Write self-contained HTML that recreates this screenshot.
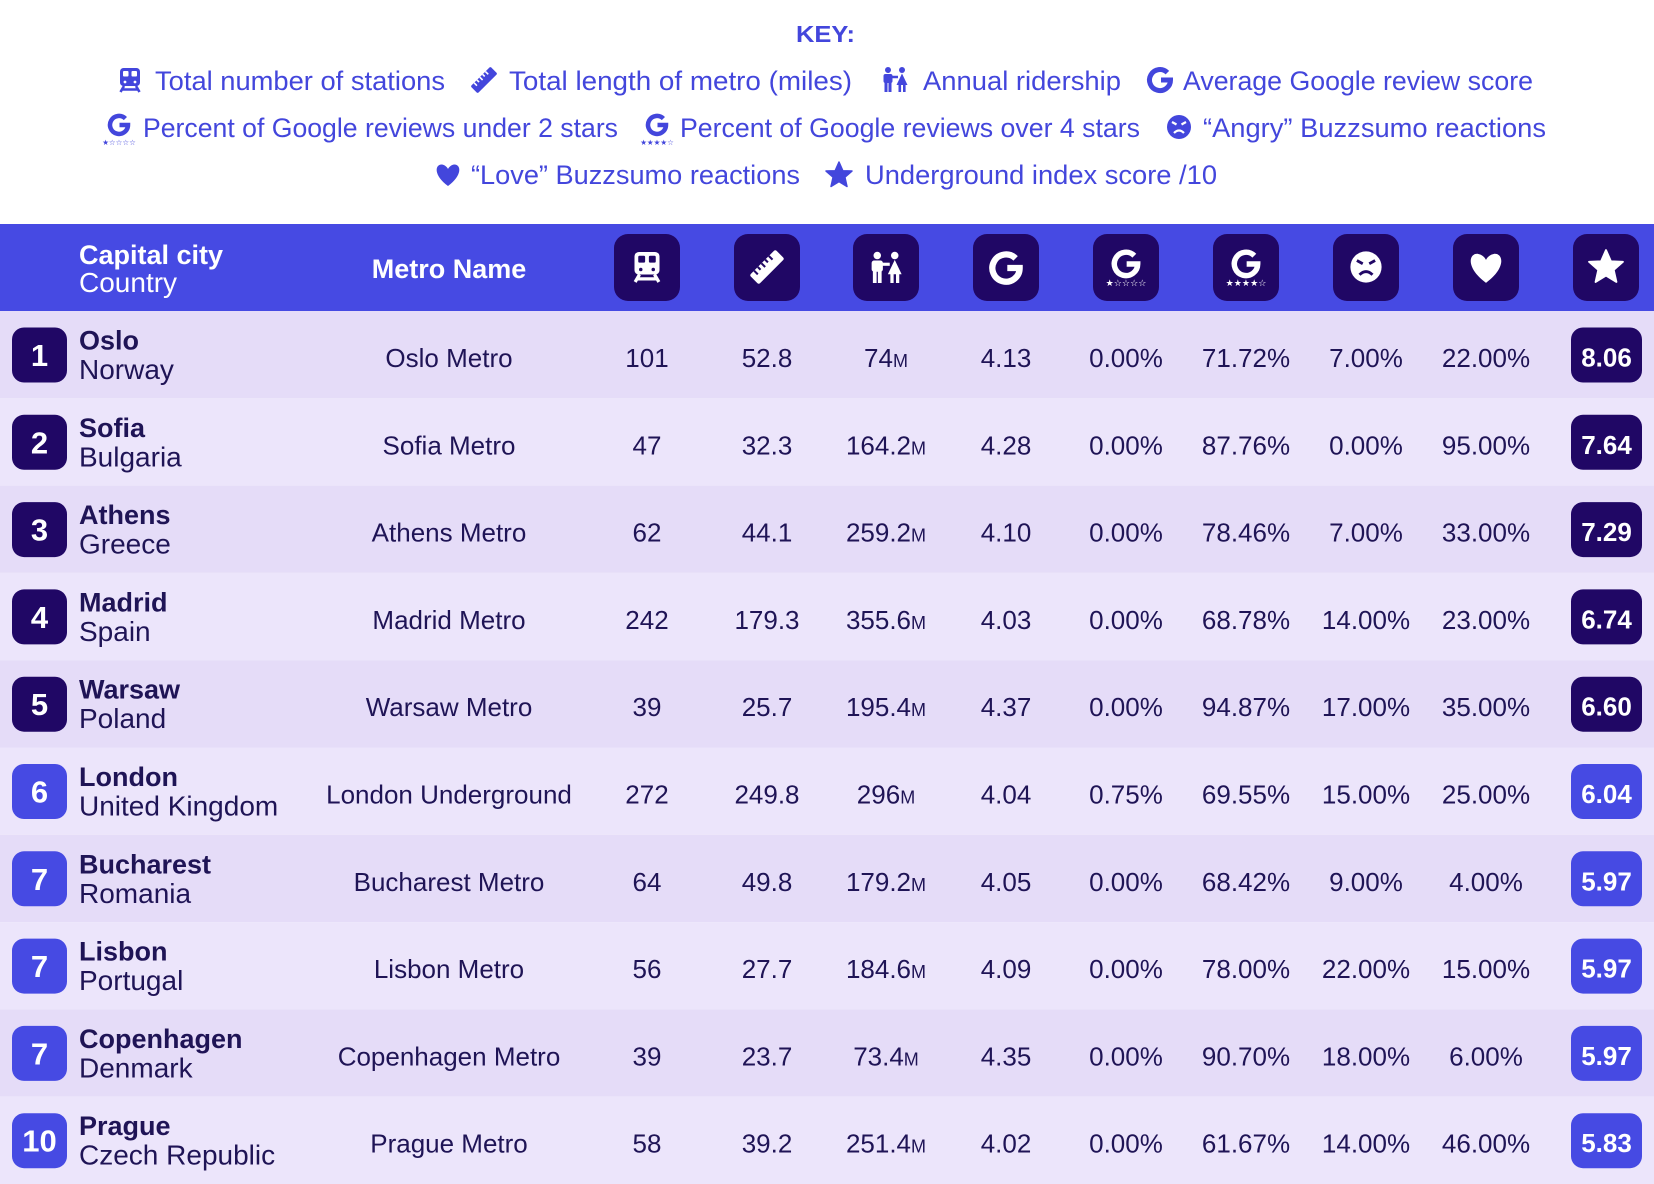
<!DOCTYPE html>
<html><head><meta charset="utf-8"><style>
html,body{margin:0;padding:0;background:#fff;}
svg{display:block;}
.k{font-family:"Liberation Sans",sans-serif;font-size:27px;fill:#4346dc;}
.kb{font-family:"Liberation Sans",sans-serif;font-size:23px;font-weight:bold;fill:#4346dc;}
.hb{font-family:"Liberation Sans",sans-serif;font-size:27px;font-weight:bold;fill:#fff;}
.hr{font-family:"Liberation Sans",sans-serif;font-size:28px;fill:#fff;}
.city{font-family:"Liberation Sans",sans-serif;font-size:27px;font-weight:bold;fill:#1f1456;}
.ctry{font-family:"Liberation Sans",sans-serif;font-size:28px;fill:#1f1456;}
.d{font-family:"Liberation Sans",sans-serif;font-size:26px;fill:#1f1456;text-anchor:middle;}
.rk{font-family:"Liberation Sans",sans-serif;font-size:31px;font-weight:bold;fill:#fff;text-anchor:middle;}
.sc{font-family:"Liberation Sans",sans-serif;font-size:26px;font-weight:bold;fill:#fff;text-anchor:middle;}
.st{font-family:"DejaVu Sans",sans-serif;}
</style></head><body>
<svg width="1654" height="1184" viewBox="0 0 1654 1184" xmlns="http://www.w3.org/2000/svg">
<rect width="1654" height="1184" fill="#fff"/>

<!-- KEY -->
<text class="kb" x="796" y="42" textLength="59" lengthAdjust="spacingAndGlyphs">KEY:</text>

<!-- line 1 -->
<g transform="translate(130,80)" fill="#4346dc">
 <rect x="-10" y="-12" width="20" height="18" rx="3.5"/>
 <rect x="-7" y="-9" width="5.5" height="5.5" rx="1" fill="#fff"/>
 <rect x="1.5" y="-9" width="5.5" height="5.5" rx="1" fill="#fff"/>
 <circle cx="-5" cy="2" r="1.4" fill="#fff"/><circle cx="5" cy="2" r="1.4" fill="#fff"/>
 <path d="M-6,6 L-9.5,12 M6,6 L9.5,12 M-8,9.5 L8,9.5" stroke="#4346dc" stroke-width="2.6" fill="none"/>
</g>
<text class="k" x="155" y="90" textLength="290" lengthAdjust="spacingAndGlyphs">Total number of stations</text>

<g transform="translate(484,80) rotate(-45)" fill="#4346dc">
 <rect x="-14" y="-5" width="28" height="10" rx="1.5"/>
 <path d="M-9,-5v4 M-5,-5v3 M-1,-5v4 M3,-5v3 M7,-5v4" stroke="#fff" stroke-width="1.6"/>
</g>
<text class="k" x="509" y="90" textLength="343" lengthAdjust="spacingAndGlyphs">Total length of metro (miles)</text>

<g transform="translate(895,80)" fill="#4346dc">
 <circle cx="-7" cy="-10" r="3"/><circle cx="7" cy="-10" r="3"/>
 <rect x="-11.5" y="-6" width="9" height="9" rx="2"/>
 <rect x="-10.5" y="2" width="3" height="10"/><rect x="-6.5" y="2" width="3" height="10"/>
 <path d="M7,-6.5 L12.5,5 L1.5,5 Z"/>
 <rect x="3.5" y="4" width="2.6" height="8"/><rect x="8" y="4" width="2.6" height="8"/>
 <path d="M-3,-3 L3,-3" stroke="#4346dc" stroke-width="2.5"/>
</g>
<text class="k" x="923" y="90" textLength="198" lengthAdjust="spacingAndGlyphs">Annual ridership</text>

<g transform="translate(1160,80)">
 <path d="M7.4,-7.4 A10.5,10.5 0 1 0 10.5,0 L1,0" stroke="#4346dc" stroke-width="5" fill="none"/>
</g>
<text class="k" x="1183" y="90" textLength="350" lengthAdjust="spacingAndGlyphs">Average Google review score</text>

<!-- line 2 -->
<g transform="translate(119,125)">
 <path d="M6.4,-6.4 A9,9 0 1 0 9,0 L0.5,0" stroke="#4346dc" stroke-width="4.5" fill="none"/>
 <text class="st" x="0" y="20" font-size="7.5" fill="#4346dc" text-anchor="middle">★☆☆☆☆</text>
</g>
<text class="k" x="143" y="137" textLength="475" lengthAdjust="spacingAndGlyphs">Percent of Google reviews under 2 stars</text>

<g transform="translate(657,125)">
 <path d="M6.4,-6.4 A9,9 0 1 0 9,0 L0.5,0" stroke="#4346dc" stroke-width="4.5" fill="none"/>
 <text class="st" x="0" y="20" font-size="7.5" fill="#4346dc" text-anchor="middle">★★★★☆</text>
</g>
<text class="k" x="680" y="137" textLength="460" lengthAdjust="spacingAndGlyphs">Percent of Google reviews over 4 stars</text>

<g transform="translate(1179,127)">
 <circle r="12" fill="#4346dc"/>
 <path d="M-7,-5 L-2.5,-2.5 M7,-5 L2.5,-2.5" stroke="#fff" stroke-width="2.2"/>
 <path d="M-5,6 Q0,1 5,6" stroke="#fff" stroke-width="2.2" fill="none"/>
</g>
<text class="k" x="1203" y="137" textLength="343" lengthAdjust="spacingAndGlyphs">“Angry” Buzzsumo reactions</text>

<!-- line 3 -->
<g transform="translate(448,175)">
 <path d="M0,11 C-15,0 -13,-11 -6,-10.5 C-3,-10 -1,-8 0,-6 C1,-8 3,-10 6,-10.5 C13,-11 15,0 0,11 Z" fill="#4346dc"/>
</g>
<text class="k" x="471" y="184" textLength="329" lengthAdjust="spacingAndGlyphs">“Love” Buzzsumo reactions</text>

<g transform="translate(839,175)">
 <polygon points="0,-13 3.8,-4.3 13,-4 5.9,2.2 8,11.5 0,6.6 -8,11.5 -5.9,2.2 -13,-4 -3.8,-4.3" fill="#4346dc" stroke="#4346dc" stroke-width="1.5" stroke-linejoin="round"/>
</g>
<text class="k" x="865" y="184" textLength="352" lengthAdjust="spacingAndGlyphs">Underground index score /10</text>

<!-- HEADER -->
<rect x="0" y="224" width="1654" height="87" fill="#464ae3"/>
<text class="hb" x="79" y="264">Capital city</text>
<text class="hr" x="79" y="292">Country</text>
<text class="hb" x="449" y="278" text-anchor="middle" font-size="28">Metro Name</text>

<g fill="#200765">
 <rect x="614" y="234" width="66" height="67" rx="14"/>
 <rect x="734" y="234" width="66" height="67" rx="14"/>
 <rect x="853" y="234" width="66" height="67" rx="14"/>
 <rect x="973" y="234" width="66" height="67" rx="14"/>
 <rect x="1093" y="234" width="66" height="67" rx="14"/>
 <rect x="1213" y="234" width="66" height="67" rx="14"/>
 <rect x="1333" y="234" width="66" height="67" rx="14"/>
 <rect x="1453" y="234" width="66" height="67" rx="14"/>
 <rect x="1573" y="234" width="66" height="67" rx="14"/>
</g>
<!-- header icons -->
<g transform="translate(647,267) scale(1.25)" fill="#fff">
 <rect x="-10" y="-12" width="20" height="18" rx="3.5"/>
 <rect x="-7" y="-9" width="5.5" height="5.5" rx="1" fill="#200765"/>
 <rect x="1.5" y="-9" width="5.5" height="5.5" rx="1" fill="#200765"/>
 <circle cx="-5" cy="2" r="1.4" fill="#200765"/><circle cx="5" cy="2" r="1.4" fill="#200765"/>
 <path d="M-6,6 L-9.5,12 M6,6 L9.5,12 M-8,9.5 L8,9.5" stroke="#fff" stroke-width="2.6" fill="none"/>
</g>
<g transform="translate(767,267) scale(1.3) rotate(-45)" fill="#fff">
 <rect x="-14" y="-5" width="28" height="10" rx="1.5"/>
 <path d="M-9,-5v4 M-5,-5v3 M-1,-5v4 M3,-5v3 M7,-5v4" stroke="#200765" stroke-width="1.6"/>
</g>
<g transform="translate(886,268) scale(1.25)" fill="#fff">
 <circle cx="-7" cy="-10" r="3"/><circle cx="7" cy="-10" r="3"/>
 <rect x="-11.5" y="-6" width="9" height="9" rx="2"/>
 <rect x="-10.5" y="2" width="3" height="10"/><rect x="-6.5" y="2" width="3" height="10"/>
 <path d="M7,-6.5 L12.5,5 L1.5,5 Z"/>
 <rect x="3.5" y="4" width="2.6" height="8"/><rect x="8" y="4" width="2.6" height="8"/>
 <path d="M-3,-3 L3,-3" stroke="#fff" stroke-width="2.5"/>
</g>
<g transform="translate(1006,268) scale(1.3)">
 <path d="M7.4,-7.4 A10.5,10.5 0 1 0 10.5,0 L1,0" stroke="#fff" stroke-width="4.8" fill="none"/>
</g>
<g transform="translate(1126,264) scale(1.3)">
 <path d="M6.4,-6.4 A9,9 0 1 0 9,0 L0.5,0" stroke="#fff" stroke-width="4.2" fill="none"/>
 <text class="st" x="0" y="17" font-size="7" fill="#fff" text-anchor="middle">★☆☆☆☆</text>
</g>
<g transform="translate(1246,264) scale(1.3)">
 <path d="M6.4,-6.4 A9,9 0 1 0 9,0 L0.5,0" stroke="#fff" stroke-width="4.2" fill="none"/>
 <text class="st" x="0" y="17" font-size="7" fill="#fff" text-anchor="middle">★★★★☆</text>
</g>
<g transform="translate(1366,267) scale(1.3)">
 <circle r="12" fill="#fff"/>
 <path d="M-7,-5 L-2.5,-2.5 M7,-5 L2.5,-2.5" stroke="#200765" stroke-width="2.2"/>
 <path d="M-5,6 Q0,1 5,6" stroke="#200765" stroke-width="2.2" fill="none"/>
</g>
<g transform="translate(1486,268) scale(1.35)">
 <path d="M0,11 C-15,0 -13,-11 -6,-10.5 C-3,-10 -1,-8 0,-6 C1,-8 3,-10 6,-10.5 C13,-11 15,0 0,11 Z" fill="#fff"/>
</g>
<g transform="translate(1606,267) scale(1.3)">
 <polygon points="0,-13 3.8,-4.3 13,-4 5.9,2.2 8,11.5 0,6.6 -8,11.5 -5.9,2.2 -13,-4 -3.8,-4.3" fill="#fff" stroke="#fff" stroke-width="1.5" stroke-linejoin="round"/>
</g>

<!-- ROWS -->
<g transform="translate(0,311)">
 <rect width="1654" height="87.3" fill="#e5dcf8"/>
 <rect x="12" y="16.5" width="55" height="55" rx="12" fill="#200765"/>
 <text class="rk" x="39.5" y="55">1</text>
 <text class="city" x="79" y="38.5">Oslo</text><text class="ctry" x="79" y="68">Norway</text>
 <text class="d" x="449" y="56">Oslo Metro</text>
 <text class="d" x="647" y="56">101</text><text class="d" x="767" y="56">52.8</text>
 <text class="d" x="886" y="56">74<tspan font-size="18">M</tspan></text>
 <text class="d" x="1006" y="56">4.13</text><text class="d" x="1126" y="56">0.00%</text>
 <text class="d" x="1246" y="56">71.72%</text><text class="d" x="1366" y="56">7.00%</text>
 <text class="d" x="1486" y="56">22.00%</text>
 <rect x="1571" y="16.5" width="71" height="55" rx="12" fill="#200765"/>
 <text class="sc" x="1606.5" y="55.5">8.06</text>
</g>
<g transform="translate(0,398.3)">
 <rect width="1654" height="87.3" fill="#ece5fb"/>
 <rect x="12" y="16.5" width="55" height="55" rx="12" fill="#200765"/>
 <text class="rk" x="39.5" y="55">2</text>
 <text class="city" x="79" y="38.5">Sofia</text><text class="ctry" x="79" y="68">Bulgaria</text>
 <text class="d" x="449" y="56">Sofia Metro</text>
 <text class="d" x="647" y="56">47</text><text class="d" x="767" y="56">32.3</text>
 <text class="d" x="886" y="56">164.2<tspan font-size="18">M</tspan></text>
 <text class="d" x="1006" y="56">4.28</text><text class="d" x="1126" y="56">0.00%</text>
 <text class="d" x="1246" y="56">87.76%</text><text class="d" x="1366" y="56">0.00%</text>
 <text class="d" x="1486" y="56">95.00%</text>
 <rect x="1571" y="16.5" width="71" height="55" rx="12" fill="#200765"/>
 <text class="sc" x="1606.5" y="55.5">7.64</text>
</g>
<g transform="translate(0,485.6)">
 <rect width="1654" height="87.3" fill="#e5dcf8"/>
 <rect x="12" y="16.5" width="55" height="55" rx="12" fill="#200765"/>
 <text class="rk" x="39.5" y="55">3</text>
 <text class="city" x="79" y="38.5">Athens</text><text class="ctry" x="79" y="68">Greece</text>
 <text class="d" x="449" y="56">Athens Metro</text>
 <text class="d" x="647" y="56">62</text><text class="d" x="767" y="56">44.1</text>
 <text class="d" x="886" y="56">259.2<tspan font-size="18">M</tspan></text>
 <text class="d" x="1006" y="56">4.10</text><text class="d" x="1126" y="56">0.00%</text>
 <text class="d" x="1246" y="56">78.46%</text><text class="d" x="1366" y="56">7.00%</text>
 <text class="d" x="1486" y="56">33.00%</text>
 <rect x="1571" y="16.5" width="71" height="55" rx="12" fill="#200765"/>
 <text class="sc" x="1606.5" y="55.5">7.29</text>
</g>
<g transform="translate(0,572.9)">
 <rect width="1654" height="87.3" fill="#ece5fb"/>
 <rect x="12" y="16.5" width="55" height="55" rx="12" fill="#200765"/>
 <text class="rk" x="39.5" y="55">4</text>
 <text class="city" x="79" y="38.5">Madrid</text><text class="ctry" x="79" y="68">Spain</text>
 <text class="d" x="449" y="56">Madrid Metro</text>
 <text class="d" x="647" y="56">242</text><text class="d" x="767" y="56">179.3</text>
 <text class="d" x="886" y="56">355.6<tspan font-size="18">M</tspan></text>
 <text class="d" x="1006" y="56">4.03</text><text class="d" x="1126" y="56">0.00%</text>
 <text class="d" x="1246" y="56">68.78%</text><text class="d" x="1366" y="56">14.00%</text>
 <text class="d" x="1486" y="56">23.00%</text>
 <rect x="1571" y="16.5" width="71" height="55" rx="12" fill="#200765"/>
 <text class="sc" x="1606.5" y="55.5">6.74</text>
</g>
<g transform="translate(0,660.2)">
 <rect width="1654" height="87.3" fill="#e5dcf8"/>
 <rect x="12" y="16.5" width="55" height="55" rx="12" fill="#200765"/>
 <text class="rk" x="39.5" y="55">5</text>
 <text class="city" x="79" y="38.5">Warsaw</text><text class="ctry" x="79" y="68">Poland</text>
 <text class="d" x="449" y="56">Warsaw Metro</text>
 <text class="d" x="647" y="56">39</text><text class="d" x="767" y="56">25.7</text>
 <text class="d" x="886" y="56">195.4<tspan font-size="18">M</tspan></text>
 <text class="d" x="1006" y="56">4.37</text><text class="d" x="1126" y="56">0.00%</text>
 <text class="d" x="1246" y="56">94.87%</text><text class="d" x="1366" y="56">17.00%</text>
 <text class="d" x="1486" y="56">35.00%</text>
 <rect x="1571" y="16.5" width="71" height="55" rx="12" fill="#200765"/>
 <text class="sc" x="1606.5" y="55.5">6.60</text>
</g>
<g transform="translate(0,747.5)">
 <rect width="1654" height="87.3" fill="#ece5fb"/>
 <rect x="12" y="16.5" width="55" height="55" rx="12" fill="#464ae3"/>
 <text class="rk" x="39.5" y="55">6</text>
 <text class="city" x="79" y="38.5">London</text><text class="ctry" x="79" y="68">United Kingdom</text>
 <text class="d" x="449" y="56">London Underground</text>
 <text class="d" x="647" y="56">272</text><text class="d" x="767" y="56">249.8</text>
 <text class="d" x="886" y="56">296<tspan font-size="18">M</tspan></text>
 <text class="d" x="1006" y="56">4.04</text><text class="d" x="1126" y="56">0.75%</text>
 <text class="d" x="1246" y="56">69.55%</text><text class="d" x="1366" y="56">15.00%</text>
 <text class="d" x="1486" y="56">25.00%</text>
 <rect x="1571" y="16.5" width="71" height="55" rx="12" fill="#464ae3"/>
 <text class="sc" x="1606.5" y="55.5">6.04</text>
</g>
<g transform="translate(0,834.8)">
 <rect width="1654" height="87.3" fill="#e5dcf8"/>
 <rect x="12" y="16.5" width="55" height="55" rx="12" fill="#464ae3"/>
 <text class="rk" x="39.5" y="55">7</text>
 <text class="city" x="79" y="38.5">Bucharest</text><text class="ctry" x="79" y="68">Romania</text>
 <text class="d" x="449" y="56">Bucharest Metro</text>
 <text class="d" x="647" y="56">64</text><text class="d" x="767" y="56">49.8</text>
 <text class="d" x="886" y="56">179.2<tspan font-size="18">M</tspan></text>
 <text class="d" x="1006" y="56">4.05</text><text class="d" x="1126" y="56">0.00%</text>
 <text class="d" x="1246" y="56">68.42%</text><text class="d" x="1366" y="56">9.00%</text>
 <text class="d" x="1486" y="56">4.00%</text>
 <rect x="1571" y="16.5" width="71" height="55" rx="12" fill="#464ae3"/>
 <text class="sc" x="1606.5" y="55.5">5.97</text>
</g>
<g transform="translate(0,922.1)">
 <rect width="1654" height="87.3" fill="#ece5fb"/>
 <rect x="12" y="16.5" width="55" height="55" rx="12" fill="#464ae3"/>
 <text class="rk" x="39.5" y="55">7</text>
 <text class="city" x="79" y="38.5">Lisbon</text><text class="ctry" x="79" y="68">Portugal</text>
 <text class="d" x="449" y="56">Lisbon Metro</text>
 <text class="d" x="647" y="56">56</text><text class="d" x="767" y="56">27.7</text>
 <text class="d" x="886" y="56">184.6<tspan font-size="18">M</tspan></text>
 <text class="d" x="1006" y="56">4.09</text><text class="d" x="1126" y="56">0.00%</text>
 <text class="d" x="1246" y="56">78.00%</text><text class="d" x="1366" y="56">22.00%</text>
 <text class="d" x="1486" y="56">15.00%</text>
 <rect x="1571" y="16.5" width="71" height="55" rx="12" fill="#464ae3"/>
 <text class="sc" x="1606.5" y="55.5">5.97</text>
</g>
<g transform="translate(0,1009.4)">
 <rect width="1654" height="87.3" fill="#e5dcf8"/>
 <rect x="12" y="16.5" width="55" height="55" rx="12" fill="#464ae3"/>
 <text class="rk" x="39.5" y="55">7</text>
 <text class="city" x="79" y="38.5">Copenhagen</text><text class="ctry" x="79" y="68">Denmark</text>
 <text class="d" x="449" y="56">Copenhagen Metro</text>
 <text class="d" x="647" y="56">39</text><text class="d" x="767" y="56">23.7</text>
 <text class="d" x="886" y="56">73.4<tspan font-size="18">M</tspan></text>
 <text class="d" x="1006" y="56">4.35</text><text class="d" x="1126" y="56">0.00%</text>
 <text class="d" x="1246" y="56">90.70%</text><text class="d" x="1366" y="56">18.00%</text>
 <text class="d" x="1486" y="56">6.00%</text>
 <rect x="1571" y="16.5" width="71" height="55" rx="12" fill="#464ae3"/>
 <text class="sc" x="1606.5" y="55.5">5.97</text>
</g>
<g transform="translate(0,1096.7)">
 <rect width="1654" height="87.3" fill="#ece5fb"/>
 <rect x="12" y="16.5" width="55" height="55" rx="12" fill="#464ae3"/>
 <text class="rk" x="39.5" y="55">10</text>
 <text class="city" x="79" y="38.5">Prague</text><text class="ctry" x="79" y="68">Czech Republic</text>
 <text class="d" x="449" y="56">Prague Metro</text>
 <text class="d" x="647" y="56">58</text><text class="d" x="767" y="56">39.2</text>
 <text class="d" x="886" y="56">251.4<tspan font-size="18">M</tspan></text>
 <text class="d" x="1006" y="56">4.02</text><text class="d" x="1126" y="56">0.00%</text>
 <text class="d" x="1246" y="56">61.67%</text><text class="d" x="1366" y="56">14.00%</text>
 <text class="d" x="1486" y="56">46.00%</text>
 <rect x="1571" y="16.5" width="71" height="55" rx="12" fill="#464ae3"/>
 <text class="sc" x="1606.5" y="55.5">5.83</text>
</g>
</svg>
</body></html>
